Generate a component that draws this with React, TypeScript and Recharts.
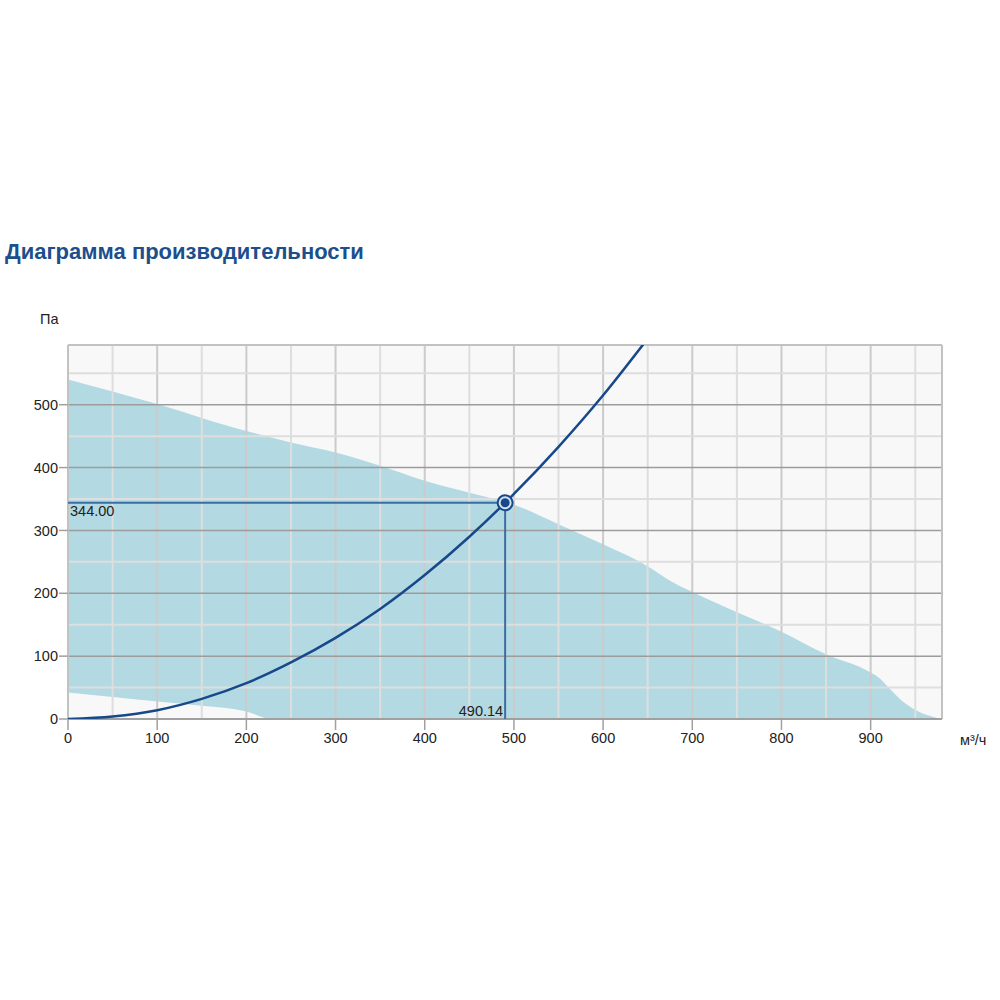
import React from 'react';
import {
  ComposedChart,
  Area,
  Line,
  XAxis,
  YAxis,
  CartesianGrid,
  ReferenceLine,
  ReferenceDot,
} from 'recharts';

// fan working field: flow (m³/h) with max / min pressure (Pa)
const FAN_Q = [0, 50, 100, 150, 200, 228, 250, 300, 350, 400, 450, 500, 550, 600, 650, 675, 700, 750, 800, 850, 900, 910, 921, 936, 951, 966, 979];
const FAN_MAX = [540, 521, 501, 479, 458, 448, 440, 424, 403, 379, 360, 341, 310, 278, 243, 220, 202, 170, 139, 103, 74, 65, 49, 28, 14, 5, 0];
const FAN_MIN = [42, 35, 28, 21, 12, 0, 0, 0, 0, 0, 0, 0, 0, 0, 0, 0, 0, 0, 0, 0, 0, 0, 0, 0, 0, 0, 0];

// system (network) curve
const SYS_Q = [0, 50, 100, 150, 200, 250, 300, 350, 400, 450, 490.14, 500, 550, 600, 645];
const SYS_P = [0, 4, 14, 32, 57, 90, 129, 175, 229, 290, 344, 358, 433, 515, 596];

// operating point
const OP_Q = 490.14;
const OP_P = 344;

const X_TICKS = [0, 100, 200, 300, 400, 500, 600, 700, 800, 900];
const Y_TICKS = [0, 100, 200, 300, 400, 500];
const X_MINOR = [50, 150, 250, 350, 450, 550, 650, 750, 850, 950];
const Y_MINOR = [50, 150, 250, 350, 450, 550];
const X_MAX = 980;
const Y_MAX = 595;

const FONT = 'Arial, "Liberation Sans", sans-serif';
const TICK = { fill: '#222', fontSize: 14.5, fontFamily: FONT };
const OP_COLOR = '#3c6da3';
const LINE_COLOR = '#17498a';

const fanData = FAN_Q.map((q, i) => ({ q, range: [FAN_MIN[i], FAN_MAX[i]] }));
const sysData = SYS_Q.map((q, i) => ({ q, p: SYS_P[i] }));

function OpMarker(props: any) {
  const { cx, cy } = props;
  return (
    <g>
      <circle cx={cx} cy={cy} r={7.5} fill="#d6e3ee" stroke={LINE_COLOR} strokeWidth={2} />
      <circle cx={cx} cy={cy} r={4.5} fill={LINE_COLOR} />
    </g>
  );
}

export default function App() {
  return (
    <div style={{ position: 'absolute', left: 0, top: 0, width: 1000, height: 1000, background: '#fff', fontFamily: FONT }}>
      <div style={{ position: 'absolute', left: 5, top: 238, fontSize: 22, lineHeight: '28px', fontWeight: 'bold', color: '#1c4f8c' }}>
        Диаграмма производительности
      </div>
      <div style={{ position: 'absolute', left: 40, top: 311, fontSize: 14.5, color: '#222' }}>Па</div>
      <div style={{ position: 'absolute', left: 960, top: 732, fontSize: 14.5, color: '#222' }}>м³/ч</div>

      <ComposedChart
        width={1000}
        height={1000}
        data={fanData}
        margin={{ top: 345, right: 58, bottom: 251, left: 0 }}
        style={{ position: 'absolute', left: 0, top: 0 }}
      >
        <CartesianGrid horizontal={false} vertical={false} fill="#f8f8f8" />
        <XAxis
          type="number"
          dataKey="q"
          domain={[0, X_MAX]}
          ticks={X_TICKS}
          allowDataOverflow
          height={30}
          tick={TICK}
          tickSize={11}
          tickMargin={3}
          tickLine={{ stroke: '#a0a0a0', strokeWidth: 1.5 }}
          axisLine={false}
        />
        <YAxis
          type="number"
          domain={[0, Y_MAX]}
          ticks={Y_TICKS}
          allowDataOverflow
          width={68}
          tick={TICK}
          tickSize={9}
          tickMargin={1}
          tickLine={{ stroke: '#a0a0a0', strokeWidth: 1.5 }}
          axisLine={false}
        />
        <Area
          type="monotone"
          dataKey="range"
          stroke="none"
          fill="#b3d9e3"
          fillOpacity={1}
          isAnimationActive={false}
        />
        {X_MINOR.map((v) => (
          <ReferenceLine key={'xm' + v} x={v} stroke="#dedede" strokeWidth={2} />
        ))}
        {X_TICKS.slice(1).map((v) => (
          <ReferenceLine key={'xM' + v} x={v} stroke="#cbcbcb" strokeWidth={2} />
        ))}
        {Y_MINOR.map((v) => (
          <ReferenceLine key={'ym' + v} y={v} stroke="#dedede" strokeWidth={2} />
        ))}
        {Y_TICKS.slice(1).map((v) => (
          <ReferenceLine key={'yM' + v} y={v} stroke="#9c9c9c" strokeWidth={1.5} />
        ))}
        <ReferenceLine x={0} stroke="#c2c2c2" strokeWidth={2} />
        <ReferenceLine x={X_MAX} stroke="#c2c2c2" strokeWidth={2} />
        <ReferenceLine y={Y_MAX} stroke="#c2c2c2" strokeWidth={2} />
        <ReferenceLine y={0} stroke="#a0a0a0" strokeWidth={2} />
        <ReferenceLine segment={[{ x: 0, y: OP_P }, { x: OP_Q, y: OP_P }]} stroke={OP_COLOR} strokeWidth={2} />
        <ReferenceLine segment={[{ x: OP_Q, y: 0 }, { x: OP_Q, y: OP_P }]} stroke={OP_COLOR} strokeWidth={2} />
        <Line
          data={sysData}
          type="monotone"
          dataKey="p"
          stroke={LINE_COLOR}
          strokeWidth={2.5}
          dot={false}
          isAnimationActive={false}
        />
        <ReferenceDot
          x={0}
          y={OP_P}
          r={0}
          shape={(p: any) => (
            <text x={p.cx + 2} y={p.cy + 13} fontSize={14.5} fontFamily={FONT} fill="#222">
              {OP_P.toFixed(2)}
            </text>
          )}
        />
        <ReferenceDot
          x={OP_Q}
          y={0}
          r={0}
          shape={(p: any) => (
            <text x={p.cx - 2} y={p.cy - 3} fontSize={14.5} fontFamily={FONT} fill="#222" textAnchor="end">
              {OP_Q.toFixed(2)}
            </text>
          )}
        />
        <ReferenceDot x={OP_Q} y={OP_P} shape={OpMarker} />
      </ComposedChart>
    </div>
  );
}
